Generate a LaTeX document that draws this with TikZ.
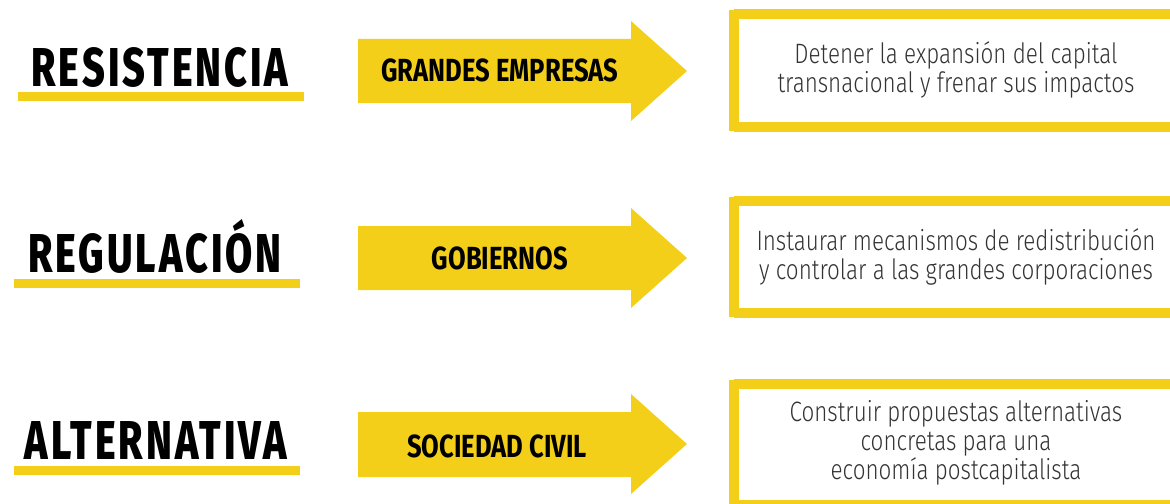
\documentclass[tikz,border=0pt]{standalone}
\usepackage{fontspec}
\usepackage{xcolor}
\newfontfamily\titlefont{Fira Sans}[UprightFont=* ExtraBold, FakeStretch=0.72, LetterSpace=5.5]
\newfontfamily\labelfont{Fira Sans}[UprightFont=* Bold, FakeStretch=0.80]
\newfontfamily\boxfont{Fira Sans}[UprightFont=* Light, FakeStretch=0.80]
\definecolor{amarillo}{RGB}{243,207,26}

\tikzset{
  titulo/.style={anchor=base, inner sep=0.75pt, font=\titlefont\fontsize{41}{41}\selectfont},
  etiqueta/.style={anchor=base, inner sep=0.75pt, font=\labelfont\fontsize{24}{24}\selectfont},
  caja/.style={draw=amarillo, line width=7.5pt},
  textocaja/.style={anchor=center, align=center, inner sep=0.75pt, text=black!80,
    font=\boxfont\fontsize{21}{21.75}\selectfont},
  flecha/.style={fill=amarillo, draw=none},
  subraya/.style={fill=amarillo, draw=none}
}

\begin{document}
\begin{tikzpicture}[x=0.75pt,y=0.75pt,yscale=-1,xscale=1]
    \path[use as bounding box] (0,0) rectangle (1170,503);
    \clip (0,0) rectangle (1170,503);

    %Shape: Underline [id:resistencia]
    \fill[subraya] (18,92) rectangle (304,101);
    %Shape: Arrow [id:empresas]
    \fill[flecha] (358,39) -- (631,39) -- (631,21) -- (687,71) -- (631,121) -- (631,103) -- (358,103) -- cycle ;
    %Shape: Rectangle [id:detener]
    \draw[caja] (734,14) -- (1185,14) (734,127) -- (1185,127) (734,10) -- (734,131) ;

    %Shape: Underline [id:regulacion]
    \fill[subraya] (14,279) rectangle (300,288);
    %Shape: Arrow [id:gobiernos]
    \fill[flecha] (358,226) -- (631,226) -- (631,208) -- (687,258) -- (631,308) -- (631,290) -- (358,290) -- cycle ;
    %Shape: Rectangle [id:instaurar]
    \draw[caja] (734,201) -- (1185,201) (734,313) -- (1185,313) (734,197) -- (734,317) ;

    %Shape: Underline [id:alternativa]
    \fill[subraya] (14,466) rectangle (300,475);
    %Shape: Arrow [id:sociedad]
    \fill[flecha] (358,412) -- (631,412) -- (631,394) -- (687,444) -- (631,494) -- (631,477) -- (358,477) -- cycle ;
    %Shape: Rectangle [id:construir]
    \draw[caja] (734,384) -- (1185,384) (734,505) -- (1185,505) (734,380) -- (734,510) ;

    % Text Node
    \node[titulo] (resistencia) at (160,86) {RESISTENCIA};
    % Text Node
    \node[titulo] (regulacion) at (155,272) {REGULACIÓN};
    % Text Node
    \node[titulo] (alternativa) at (156,459) {ALTERNATIVA};

    % Text Node
    \node[etiqueta] (empresas) at (500,82) {GRANDES EMPRESAS};
    % Text Node
    \node[etiqueta] (gobiernos) at (500,269) {GOBIERNOS};
    % Text Node
    \node[etiqueta] (sociedad) at (497,457) {SOCIEDAD CIVIL};

    % Text Node
    \node[textocaja] (detener) at (956,70) {Detener la expansión del capital\\transnacional y frenar sus impactos};
    % Text Node
    \node[textocaja] (instaurar) at (956,257) {Instaurar mecanismos de redistribución\\y controlar a las grandes corporaciones};
    % Text Node
    \node[textocaja] (construir) at (956,443) {Construir propuestas alternativas\\concretas para una\\economía postcapitalista};

\end{tikzpicture}
\end{document}
